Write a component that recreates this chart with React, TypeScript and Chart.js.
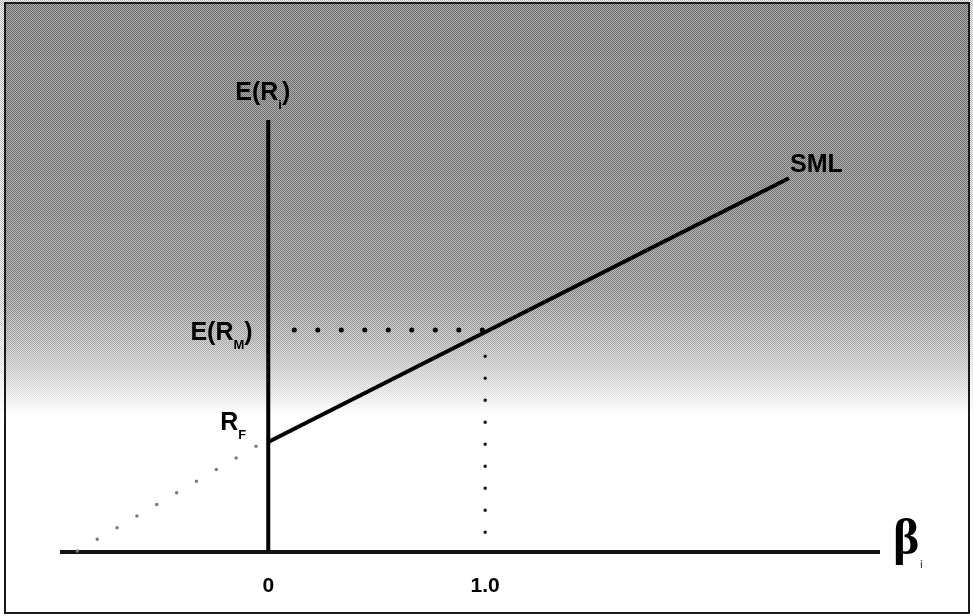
import React, { useEffect, useRef } from "react";
import { Chart, registerables } from "chart.js";

Chart.register(...registerables);

// ---- data (beta on x, expected return on y, arbitrary units) ----
const betaTicks = [0, 1];
const betaTickLabels = ["0", "1.0"];
const xAxisBeta = [-0.96, 2.82];
const xAxisER = [0, 0];
const yAxisBeta = [0, 0];
const yAxisER = [0, 3.93];
const smlBeta = [0, 2.4];
const smlER = [1.0, 3.4];
const extBeta = [-0.88, -0.04];
const extER = [0.01, 0.98];
const marketBeta = [0.12, 1.0];
const marketER = [2.02, 2.02];
const dropBeta = [1.0, 1.0];
const dropER = [1.78, 0.06];

// text labels: [text, isSubscript] pieces + anchor in data units
const labelParts: [string, boolean][][] = [
  [["E(R", false], ["i", true], [")", false]],
  [["E(R", false], ["M", true], [")", false]],
  [["R", false], ["F", true]],
  [["SML", false]],
];
const labelBeta = [-0.152, -0.359, -0.221, 2.405];
const labelER = [4.11, 1.93, 1.11, 3.455];

const pts = (xs: number[], ys: number[]) => xs.map((x, i) => ({ x, y: ys[i] }));

const W = 973;
const H = 616;

export default function App() {
  const ref = useRef<HTMLCanvasElement | null>(null);

  useEffect(() => {
    if (!ref.current) return;

    // halftone-like texture layer (regular dither pattern, faded out downward)
    const tex = document.createElement("canvas");
    tex.width = W;
    tex.height = H;
    const tctx = tex.getContext("2d")!;
    const cell = document.createElement("canvas");
    cell.width = 2;
    cell.height = 2;
    const cctx = cell.getContext("2d")!;
    cctx.fillStyle = "rgba(40,40,40,0.35)";
    cctx.fillRect(0, 0, 1, 1);
    cctx.fillRect(1, 1, 1, 1);
    cctx.fillStyle = "rgba(235,235,235,0.30)";
    cctx.fillRect(1, 0, 1, 1);
    cctx.fillRect(0, 1, 1, 1);
    const pat = tctx.createPattern(cell, "repeat")!;
    tctx.fillStyle = pat;
    tctx.fillRect(0, 0, W, H);
    tctx.globalCompositeOperation = "destination-in";
    const mask = tctx.createLinearGradient(0, 0, 0, H);
    mask.addColorStop(0, "rgba(0,0,0,1)");
    mask.addColorStop(0.5, "rgba(0,0,0,0.9)");
    mask.addColorStop(0.62, "rgba(0,0,0,0.35)");
    mask.addColorStop(0.68, "rgba(0,0,0,0)");
    mask.addColorStop(1, "rgba(0,0,0,0)");
    tctx.fillStyle = mask;
    tctx.fillRect(0, 0, W, H);

    const bgPlugin = {
      id: "bg",
      beforeDraw(chart: any) {
        const ctx = chart.ctx;
        ctx.save();
        ctx.fillStyle = "#ffffff";
        ctx.fillRect(0, 0, W, H);
        const g = ctx.createLinearGradient(0, 0, 0, H);
        g.addColorStop(0, "#8f8f8f");
        g.addColorStop(0.3, "#989898");
        g.addColorStop(0.46, "#a8a8a8");
        g.addColorStop(0.55, "#cccccc");
        g.addColorStop(0.63, "#efefef");
        g.addColorStop(0.67, "#ffffff");
        g.addColorStop(1, "#ffffff");
        ctx.fillStyle = g;
        ctx.fillRect(5, 3, W - 9, H - 7);
        ctx.drawImage(tex, 0, 0);
        ctx.strokeStyle = "#1a1a1a";
        ctx.lineWidth = 2;
        ctx.strokeRect(5, 3, W - 9, H - 6);
        ctx.restore();
      },
    };
    const textPlugin = {
      id: "texts",
      afterDatasetsDraw(chart: any) {
        const ctx = chart.ctx;
        const xs = chart.scales.x;
        const ys = chart.scales.y;
        ctx.save();
        ctx.fillStyle = "#000";
        ctx.textBaseline = "alphabetic";
        ctx.textAlign = "left";
        labelParts.forEach((parts, i) => {
          let px = xs.getPixelForValue(labelBeta[i]);
          const py = ys.getPixelForValue(labelER[i]);
          parts.forEach(([t, sub]) => {
            ctx.font = sub
              ? "bold 13px 'Liberation Sans', Arial, sans-serif"
              : "bold 25px 'Liberation Sans', Arial, sans-serif";
            ctx.fillText(t, px, sub ? py + 9 : py);
            px += ctx.measureText(t).width;
          });
        });
        // beta axis symbol
        const bx = xs.getPixelForValue(2.88);
        const by = ys.getPixelForValue(-0.02);
        ctx.font = "bold 50px 'Liberation Serif', 'Times New Roman', serif";
        ctx.fillText("β", bx, by);
        const bw = ctx.measureText("β").width;
        ctx.font = "10px 'Liberation Sans', Arial, sans-serif";
        ctx.fillText("i", bx + bw + 1, by + 14);
        ctx.restore();
      },
    };

    const line = (data: any, color: string, width: number, dash: number[] = []) => ({
      data,
      borderColor: color,
      borderWidth: width,
      borderDash: dash,
      borderCapStyle: dash.length ? "round" : "butt",
      pointRadius: 0,
      fill: false,
      tension: 0,
      clip: false as any,
    });

    const chart = new Chart(ref.current, {
      type: "line",
      data: {
        datasets: [
          line(pts(extBeta, extER), "#7a7a7a", 3.5, [0, 23]),
          line(pts(marketBeta, marketER), "#000000", 5, [0, 23.5]),
          line(pts(dropBeta, dropER), "#111111", 3.5, [0, 22]),
          line(pts(xAxisBeta, xAxisER), "#111111", 4),
          line(pts(yAxisBeta, yAxisER), "#000000", 4),
          line(pts(smlBeta, smlER), "#000000", 4),
        ] as any,
      },
      options: {
        responsive: false,
        animation: false,
        devicePixelRatio: 1,
        layout: { padding: { left: 60, right: 93, top: 120, bottom: 0 } },
        plugins: { legend: { display: false }, tooltip: { enabled: false } },
        scales: {
          x: {
            type: "linear",
            min: -0.96,
            max: 2.82,
            grid: { display: false, drawTicks: false },
            border: { display: false },
            afterBuildTicks: (s: any) => {
              s.ticks = betaTicks.map((v) => ({ value: v }));
            },
            afterFit: (s: any) => {
              s.height = 64;
            },
            ticks: {
              padding: 22,
              color: "#000",
              font: { family: "'Liberation Sans', Arial, sans-serif", size: 21, weight: "bold" },
              callback: (v: any) => {
                const i = betaTicks.indexOf(Number(v));
                return i >= 0 ? betaTickLabels[i] : "";
              },
            },
          },
          y: {
            type: "linear",
            min: 0,
            max: 3.93,
            display: false,
          },
        },
      } as any,
      plugins: [bgPlugin, textPlugin],
    });
    return () => chart.destroy();
  }, []);

  return (
    <div style={{ position: "absolute", left: 0, top: 0, width: W, height: H }}>
      <canvas ref={ref} width={W} height={H} style={{ width: W, height: H, display: "block" }} />
    </div>
  );
}
